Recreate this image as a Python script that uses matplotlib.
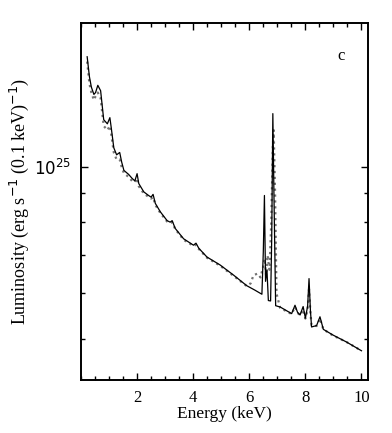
import numpy as np
import matplotlib.pyplot as plt
from matplotlib.ticker import MultipleLocator, FixedLocator, NullFormatter

# solid curve: energy (keV), luminosity (1e24 erg/s/(0.1 keV))
e_solid = [0.22, 0.30, 0.37, 0.46, 0.52, 0.60, 0.70, 0.81, 0.94, 1.03, 1.08,
           1.17, 1.27, 1.38, 1.45, 1.53, 1.70, 1.82, 1.92, 2.00, 2.06, 2.24,
           2.41, 2.50, 2.57, 2.65, 2.83, 3.07, 3.18, 3.25, 3.36, 3.66, 4.01,
           4.10, 4.20, 4.49, 4.96, 5.44, 5.91, 6.20, 6.45, 6.50, 6.54, 6.58,
           6.63, 6.68, 6.76, 6.80, 6.84, 6.88, 6.94, 7.10, 7.51, 7.63, 7.72,
           7.81, 7.92, 8.00, 8.08, 8.13, 8.18, 8.22, 8.40, 8.52, 8.64, 8.99,
           9.47, 10.0]
l_solid = [15.6, 14.4, 13.8, 13.4, 13.5, 13.9, 13.6, 12.1, 11.9, 12.2, 11.7,
           10.8, 10.5, 10.6, 10.2, 9.86, 9.70, 9.55, 9.45, 9.73, 9.35, 9.04,
           8.91, 8.85, 8.95, 8.63, 8.34, 8.05, 8.00, 8.05, 7.80, 7.48, 7.29,
           7.35, 7.20, 6.95, 6.73, 6.46, 6.19, 6.08, 5.98, 7.10, 8.91, 6.30,
           6.60, 5.83, 5.82, 7.50, 12.4, 8.90, 5.71, 5.68, 5.53, 5.72, 5.56,
           5.50, 5.69, 5.43, 5.70, 6.37, 5.60, 5.24, 5.27, 5.46, 5.19, 5.07,
           4.93, 4.76]

# dotted curve
e_dot = [0.22, 0.30, 0.37, 0.46, 0.52, 0.60, 0.70, 0.81, 0.94, 1.03, 1.08,
         1.17, 1.27, 1.38, 1.45, 1.53, 1.70, 1.82, 1.92, 2.00, 2.06, 2.24,
         2.41, 2.50, 2.57, 2.65, 2.83, 3.07, 3.18, 3.25, 3.36, 3.66, 4.01,
         4.10, 4.20, 4.49, 4.96, 5.44, 5.91, 6.05, 6.15, 6.30, 6.40, 6.50,
         6.55, 6.60, 6.65, 6.72, 6.78, 6.84, 6.87, 6.92, 6.97, 7.10, 7.51,
         7.63, 7.72, 7.81, 7.92, 8.00, 8.08, 8.13, 8.18, 8.22, 8.40, 8.52,
         8.64, 8.99, 9.47, 10.0]
l_dot = [15.3, 14.0, 13.5, 13.1, 13.3, 13.5, 13.2, 11.8, 11.6, 11.8, 11.4,
         10.6, 10.3, 10.3, 10.0, 9.75, 9.60, 9.45, 9.40, 9.55, 9.25, 8.98,
         8.86, 8.80, 8.85, 8.58, 8.30, 8.02, 7.98, 8.00, 7.78, 7.45, 7.27,
         7.30, 7.18, 6.93, 6.71, 6.44, 6.18, 6.25, 6.46, 6.50, 6.40, 6.70,
         6.90, 6.45, 7.00, 6.60, 7.90, 10.9, 11.6, 9.00, 6.00, 5.66, 5.52,
         5.68, 5.55, 5.49, 5.62, 5.42, 5.62, 6.10, 5.55, 5.28, 5.26, 5.42,
         5.19, 5.06, 4.93, 4.76]

xticks = [2, 4, 6, 8, 10]

plt.rcParams['font.family'] = ['Liberation Serif', 'DejaVu Serif']

fig = plt.figure(figsize=(3.92, 4.33), dpi=100)
ax = fig.add_axes([0.2066, 0.1224, 0.732, 0.8252])

ax.plot(e_dot, np.array(l_dot) * 1e24, color='0.45', linestyle=':',
        linewidth=1.6)
ax.plot(e_solid, np.array(l_solid) * 1e24, color='black', linewidth=0.9)

ax.set_yscale('log')
ax.set_xlim(0, 10.23)
ax.set_ylim(4.23e24, 1.79e25)

ax.xaxis.set_major_locator(FixedLocator(xticks))
ax.xaxis.set_minor_locator(MultipleLocator(0.5))
ax.yaxis.set_major_locator(FixedLocator([1e25]))
ax.yaxis.set_minor_locator(FixedLocator([5e24, 6e24, 7e24, 8e24, 9e24]))
ax.yaxis.set_minor_formatter(NullFormatter())
ax.set_yticklabels(['$10^{25}$'])

ax.tick_params(which='both', direction='in', top=True, right=True,
               labelsize=12)
ax.tick_params(which='major', length=5, width=1, pad=7)
ax.tick_params(which='minor', length=3, width=1)
for s in ax.spines.values():
    s.set_linewidth(1.4)

ax.set_xlabel('Energy (keV)', fontsize=12.5, labelpad=0)
ax.set_ylabel('Luminosity (erg s$^{-1}$ (0.1 keV)$^{-1}$)', fontsize=13,
              labelpad=2)
ax.text(0.908, 0.907, 'c', transform=ax.transAxes, fontsize=12,
        ha='center', va='center')

fig.savefig('out.png', dpi=100)
